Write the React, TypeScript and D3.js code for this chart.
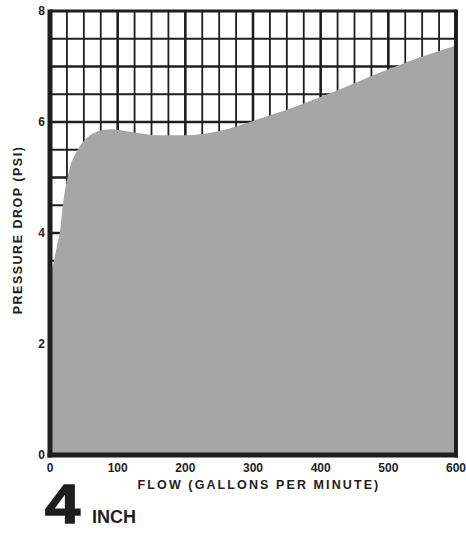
import React from "react";
import * as d3 from "d3";

const flowGpm = [0, 5, 10, 15, 20, 25, 30, 40, 55, 70, 90, 120, 160, 200, 250, 300, 350, 400, 450, 500, 550, 600];
const pressurePsi = [3.2, 3.45, 3.75, 4.05, 4.6, 4.95, 5.2, 5.48, 5.72, 5.83, 5.87, 5.82, 5.76, 5.76, 5.84, 6.02, 6.22, 6.45, 6.7, 6.95, 7.18, 7.38];
const xTicks = [0, 100, 200, 300, 400, 500, 600];
const yTicks = [0, 2, 4, 6, 8];
const xTitle = "FLOW (GALLONS PER MINUTE)";
const yTitle = "PRESSURE DROP (PSI)";
const sizeNumber = "4";
const sizeUnit = "INCH";

const W = 466, H = 535;
const L = 50, R = 456, T = 11, B = 455;
const INK = "#1e1e1e";
const FILL = "#a6a6a6";
const FONT = "'Liberation Sans', Arial, sans-serif";

export default function App() {
  const x = d3.scaleLinear().domain([0, 600]).range([L, R]);
  const y = d3.scaleLinear().domain([0, 8]).range([B, T]);
  const data = flowGpm.map((f, i) => [f, pressurePsi[i]] as [number, number]);
  const area = d3.area<[number, number]>()
    .x(d => x(d[0]))
    .y0(y(0))
    .y1(d => y(d[1]))
    .curve(d3.curveMonotoneX);

  const vGrid = d3.range(25, 600, 25);
  const hGrid = d3.range(0.5, 8, 0.5);

  return (
    <svg width={W} height={H} style={{ position: "absolute", left: 0, top: 0, background: "#fff" }}>
      <rect x={0} y={0} width={W} height={H} fill="#fff" />
      {vGrid.map(v => (
        <line key={"v" + v} x1={x(v)} x2={x(v)} y1={T} y2={B} stroke={INK}
          strokeWidth={v % 100 === 0 ? 2.6 : 1.8} />
      ))}
      {hGrid.map(v => (
        <line key={"h" + v} x1={L} x2={R} y1={y(v)} y2={y(v)} stroke={INK}
          strokeWidth={v % 1 === 0 ? 2.4 : 1.8} />
      ))}
      <path d={area(data) || ""} fill={FILL} />
      {/* frame */}
      <line x1={L} x2={R} y1={T} y2={T} stroke={INK} strokeWidth={2.8} />
      <line x1={R} x2={R} y1={T - 1.4} y2={B + 2.5} stroke={INK} strokeWidth={4} />
      <line x1={L} x2={L} y1={T - 1.4} y2={B + 2.5} stroke={INK} strokeWidth={5} />
      <line x1={L - 2.5} x2={R + 2} y1={B} y2={B} stroke={INK} strokeWidth={5} />
      {yTicks.map(t => (
        <text key={"yt" + t} x={L - 5} y={y(t)} dy="0.35em" textAnchor="end"
          fontFamily={FONT} fontWeight="bold" fontSize={12} fill={INK}>{t}</text>
      ))}
      {xTicks.map(t => (
        <text key={"xt" + t} x={x(t)} y={B + 17} textAnchor="middle"
          fontFamily={FONT} fontWeight="bold" fontSize={12} fill={INK}>{t}</text>
      ))}
      <text x={259} y={489} textAnchor="middle" fontFamily={FONT} fontWeight="bold"
        fontSize={12.5} letterSpacing={2.1} fill={INK}>{xTitle}</text>
      <text transform={`translate(22,${230}) rotate(-90)`} textAnchor="middle" fontFamily={FONT}
        fontWeight="bold" fontSize={12.5} letterSpacing={1.5} fill={INK}>{yTitle}</text>
      <text transform="translate(45,523) scale(1.15,1)" fontFamily={FONT} fontWeight="bold"
        fontSize={55} fill={INK} stroke={INK} strokeWidth={1.5}>{sizeNumber}</text>
      <text x={92} y={523} fontFamily={FONT} fontWeight="bold" fontSize={18} fill={INK}>{sizeUnit}</text>
    </svg>
  );
}
